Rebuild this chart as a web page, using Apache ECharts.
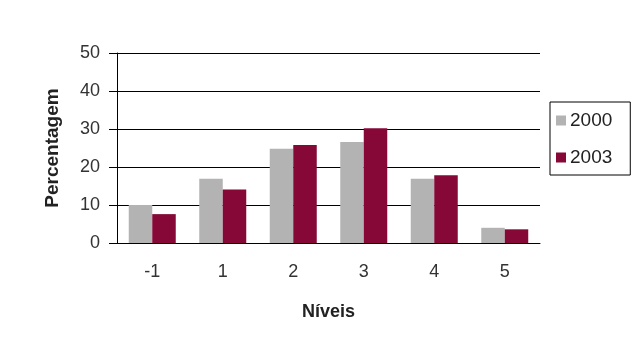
<!DOCTYPE html>
<html>
<head>
<meta charset="utf-8">
<script src="https://cdn.jsdelivr.net/npm/echarts@6/dist/echarts.min.js"></script>
<style>
  html, body { margin: 0; padding: 0; background: #fff; }
  #main { width: 636px; height: 338px; }
</style>
</head>
<body>
<div id="main"></div>
<script>
const niveis = ['-1', '1', '2', '3', '4', '5'];
const anos = ['2000', '2003'];
const valores2000 = [10.0, 16.9, 24.8, 26.6, 16.9, 4.0];
const valores2003 = [7.6, 14.1, 25.8, 30.2, 17.8, 3.6];
const yTicks = [0, 10, 20, 30, 40, 50];

const font = 'Liberation Sans, Arial, sans-serif';
const chart = echarts.init(document.getElementById('main'));

const option = {
    backgroundColor: '#fff',
    animation: false,
    grid: { left: 117, right: 96, top: 53, bottom: 95 },
    legend: {
        data: anos,
        orient: 'vertical',
        left: 550,
        top: 102,
        padding: [9, 18, 8, 6],
        itemGap: 18,
        itemWidth: 10,
        itemHeight: 10,
        icon: 'rect',
        borderColor: '#000',
        borderWidth: 1,
        textStyle: { fontFamily: font, fontSize: 19, color: '#222', padding: [0, 0, 0, -1] }
    },
    xAxis: {
        type: 'category',
        data: niveis,
        name: 'Níveis',
        nameLocation: 'middle',
        nameGap: 60,
        nameTextStyle: { fontFamily: font, fontSize: 18, fontWeight: 'bold', color: '#222' },
        axisLine: { lineStyle: { color: '#000' } },
        axisTick: { length: 6, lineStyle: { color: '#000' } },
        axisLabel: { fontFamily: font, fontSize: 18, color: '#333', margin: 20 }
    },
    yAxis: {
        type: 'value',
        min: yTicks[0],
        max: yTicks[yTicks.length - 1],
        interval: 10,
        name: 'Percentagem',
        nameLocation: 'middle',
        nameGap: 55,
        nameTextStyle: { fontFamily: font, fontSize: 19, fontWeight: 'bold', color: '#222' },
        axisLine: { show: true, lineStyle: { color: '#000' } },
        axisTick: { show: true, length: 8, lineStyle: { color: '#000' } },
        axisLabel: { fontFamily: font, fontSize: 18, color: '#333', margin: 17 },
        splitLine: { lineStyle: { color: '#000' } }
    },
    series: [
        {
            name: anos[0],
            type: 'bar',
            data: valores2000,
            barWidth: 23.5,
            barGap: '0%',
            itemStyle: { color: '#b3b3b3' }
        },
        {
            name: anos[1],
            type: 'bar',
            data: valores2003,
            barWidth: 23.5,
            barGap: '0%',
            itemStyle: { color: '#850837' }
        }
    ]
};

chart.setOption(option);
</script>
</body>
</html>
